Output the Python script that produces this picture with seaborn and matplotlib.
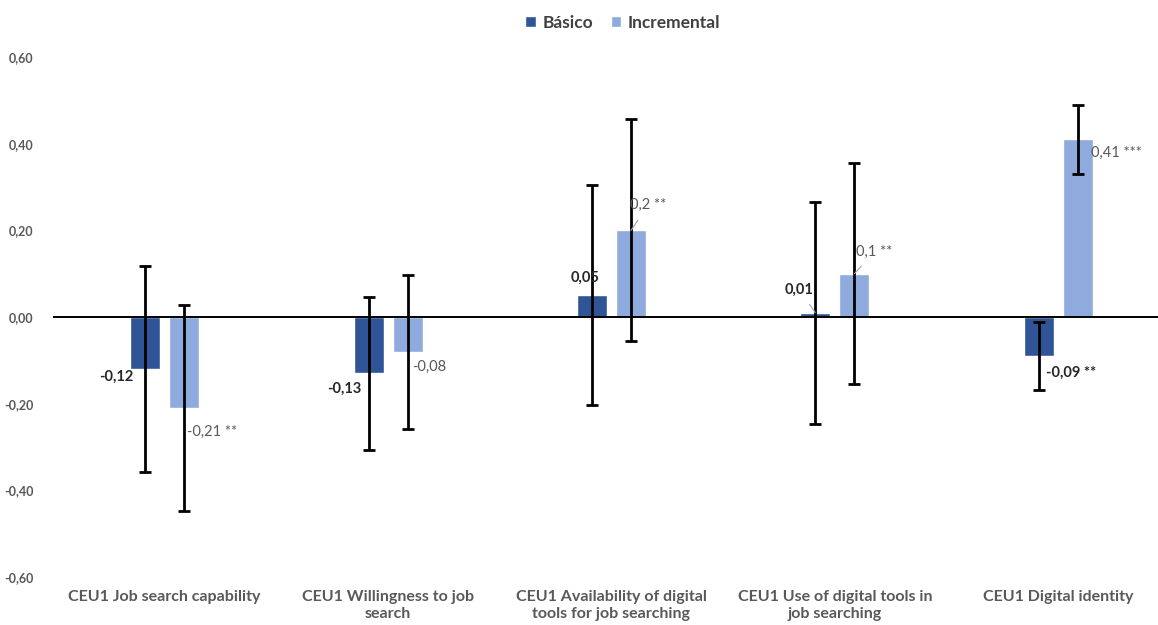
import matplotlib
matplotlib.use("Agg")
import matplotlib.pyplot as plt
from matplotlib.patches import Patch
import seaborn as sns
import pandas as pd

# data
categories = [
    "CEU1 Job search capability",
    "CEU1 Willingness to job\nsearch",
    "CEU1 Availability of digital\ntools for job searching",
    "CEU1 Use of digital tools in\njob searching",
    "CEU1 Digital identity",
]
groups = ["Básico", "Incremental"]
basico = [-0.12, -0.13, 0.05, 0.01, -0.09]
incremental = [-0.21, -0.08, 0.20, 0.10, 0.41]
basico_err = [0.237, 0.177, 0.254, 0.256, 0.078]
incremental_err = [0.237, 0.178, 0.256, 0.255, 0.079]
basico_labels = ["-0,12", "-0,13", "0,05", "0,01", "-0,09 **"]
incremental_labels = ["-0,21 **", "-0,08", "0,2 **", "0,1 **", "0,41 ***"]
yticks = [-0.6, -0.4, -0.2, 0.0, 0.2, 0.4, 0.6]

colors = ["#2F5597", "#8FAADC"]
gray = "#595959"

df = pd.DataFrame({
    "cat": categories * 2,
    "grupo": [groups[0]] * 5 + [groups[1]] * 5,
    "value": basico + incremental,
})

sns.set_style("white")
plt.rcParams["font.family"] = ["Lato", "DejaVu Sans"]

fig = plt.figure(figsize=(11.58, 6.25), dpi=100)
ax = fig.add_axes([53 / 1158, 1 - 577 / 625, 1117 / 1158, 520 / 625])

sns.barplot(data=df, x="cat", y="value", hue="grupo", palette=colors,
            width=0.35, gap=0.23, order=categories, hue_order=groups,
            saturation=1, legend=False, ax=ax, errorbar=None)

# error bars at bar centres
for cont, errs in zip(ax.containers, [basico_err, incremental_err]):
    xs = [b.get_x() + b.get_width() / 2 for b in cont]
    vals = [b.get_height() + b.get_y() for b in cont]
    ax.errorbar(xs, vals, yerr=errs, fmt="none", ecolor="black",
                elinewidth=2, capsize=4, capthick=2, zorder=4)

ax.axhline(0, color="black", lw=1.4, zorder=3)
ax.set_ylim(-0.6, 0.6)
ax.set_xlim(-0.5, 4.5)
ax.set_yticks(yticks)
ax.set_yticklabels([f"{t:.2f}".replace(".", ",") for t in yticks],
                   color=gray, fontsize=9, fontweight="bold")
ax.tick_params(axis="y", length=0, pad=14)
ax.tick_params(axis="x", length=0, pad=9)
ax.set_xticks(range(len(categories)))
ax.set_xticklabels(categories, color=gray, fontsize=11.5, fontweight="bold",
                   linespacing=1.3, va="top")
ax.set_xlabel("")
ax.set_ylabel("")
for s in ax.spines.values():
    s.set_visible(False)

# value labels (pixel offsets from the bar end), leader line flag
b_off = [(-29, -8, False), (-24, -15, False), (-7, 18, False), (-16, 23, True), (32, -17, False)]
i_off = [(28, -24, False), (22, -15, False), (17, 25, True), (20, 22, True), (39, -14, False)]

for cont, labels, offs, style in [
        (ax.containers[0], basico_labels, b_off, dict(fontweight="bold", color="#262626")),
        (ax.containers[1], incremental_labels, i_off, dict(fontweight="normal", color=gray))]:
    for bar, lab, (dx, dy, lead) in zip(cont, labels, offs):
        x = bar.get_x() + bar.get_width() / 2
        y = bar.get_y() + bar.get_height()
        arrow = dict(arrowstyle="-", color="#A6A6A6", lw=0.8, shrinkA=4, shrinkB=0) if lead else None
        ax.annotate(lab, xy=(x, y), xytext=(dx, dy), textcoords="offset pixels",
                    ha="center", va="center", fontsize=10.5, arrowprops=arrow,
                    zorder=6, **style)

handles = [Patch(facecolor=c, label=g) for c, g in zip(colors, groups)]
leg = fig.legend(handles=handles, loc="center", bbox_to_anchor=(623 / 1158, 1 - 23 / 625),
                 ncol=2, frameon=False, handlelength=0.6, handleheight=0.6,
                 handletextpad=0.4, columnspacing=1.0,
                 prop={"size": 12.5, "weight": "bold"})
for t in leg.get_texts():
    t.set_color("#404040")

fig.savefig("out.png", dpi=100)
